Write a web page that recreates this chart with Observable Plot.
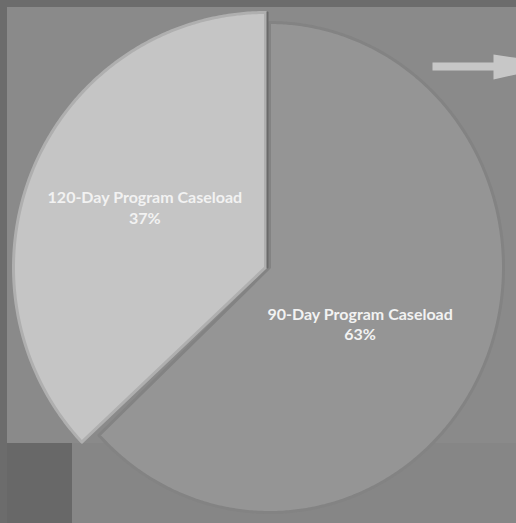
<!DOCTYPE html>
<html>
<head>
<meta charset="utf-8">
<script src="https://cdn.jsdelivr.net/npm/d3@7"></script>
<script src="https://cdn.jsdelivr.net/npm/@observablehq/plot@0.6"></script>
<style>
  html, body { margin: 0; padding: 0; background: #6c6c6c; }
  #chart { width: 516px; height: 523px; overflow: hidden; }
</style>
</head>
<body>
<div id="chart"></div>
<script>
// ---- data ----
const categories = ["90-Day Program Caseload", "120-Day Program Caseload"];
const shares = [63, 37];
const pctLabels = ["63%", "37%"];

// ---- layout (pixel space, identity scales) ----
const W = 516, H = 523;
const geom = [
  {cx: 269, cy: 267, rx: 234, ry: 245, fill: "#959595", stroke: "#838383", labelFrac: 0.45, dx: -6, dy: 12},
  {cx: 265, cy: 267, rx: 252, ry: 255, fill: "#c5c5c5", stroke: "#afafaf", labelFrac: 0.5, dx: -5, dy: -10}
];

const total = d3.sum(shares);
let acc = 0;
const slices = categories.map((name, i) => {
  const a0 = acc / total * 2 * Math.PI;
  acc += shares[i];
  const a1 = acc / total * 2 * Math.PI;
  return {name, value: shares[i], pct: pctLabels[i], a0, a1, i};
});

function polygon(s) {
  const g = geom[s.i];
  const pts = [{x: g.cx, y: g.cy}];
  const n = Math.max(8, Math.ceil((s.a1 - s.a0) / (Math.PI / 360)));
  for (let k = 0; k <= n; k++) {
    const a = s.a0 + (s.a1 - s.a0) * k / n;
    pts.push({x: g.cx + g.rx * Math.sin(a), y: g.cy - g.ry * Math.cos(a)});
  }
  return pts;
}

const labels = slices.map(s => {
  const g = geom[s.i];
  const m = (s.a0 + s.a1) / 2;
  return {
    x: g.cx + g.labelFrac * g.rx * Math.sin(m) + g.dx,
    y: g.cy - g.labelFrac * g.ry * Math.cos(m) + g.dy,
    text: s.name + "\n" + s.pct
  };
});

const one = [{}];
const arrowPts = [
  {x: 432, y: 62}, {x: 493, y: 62}, {x: 493, y: 54}, {x: 560, y: 64},
  {x: 493, y: 79}, {x: 493, y: 70}, {x: 432, y: 70}
];

const marks = [
  // photographed slide backgrounds
  Plot.rect(one, {x1: 0, x2: W, y1: 0, y2: H, fill: "#6c6c6c"}),
  Plot.rect(one, {x1: 7, x2: W, y1: 7, y2: 443, fill: "#8a8a8a"}),
  Plot.rect(one, {x1: 72, x2: W, y1: 443, y2: H, fill: "#868686"}),
  Plot.rect(one, {x1: 7, x2: 72, y1: 443, y2: H, fill: "#686868"}),
  Plot.line(arrowPts, {x: "x", y: "y", curve: "linear-closed", fill: "#c7c7c7", stroke: "none"})
];
slices.forEach(s => {
  const g = geom[s.i];
  marks.push(Plot.line(polygon(s), {
    x: "x", y: "y", curve: "linear-closed",
    fill: g.fill, stroke: g.stroke, strokeWidth: 3, strokeLinejoin: "round"
  }));
});
// shadow along the exploded slice's vertical edge
marks.push(Plot.line([{x: geom[1].cx + 2, y: geom[1].cy - geom[1].ry}, {x: geom[1].cx + 2, y: geom[1].cy}],
  {x: "x", y: "y", stroke: "#6a6a6a", strokeWidth: 2}));
marks.push(Plot.text(labels, {
  x: "x", y: "y", text: "text",
  fill: "#f2f2f2", fontSize: 16, fontWeight: "bold",
  fontFamily: "Lato, 'Open Sans', sans-serif", lineHeight: 1.3,
  textAnchor: "middle"
}));

const chart = Plot.plot({
  width: W, height: H,
  margin: 0,
  x: {domain: [0, W], range: [0, W], axis: null},
  y: {domain: [0, H], range: [0, H], axis: null},
  style: {background: "transparent"},
  marks
});
document.getElementById("chart").appendChild(chart);
</script>
</body>
</html>
